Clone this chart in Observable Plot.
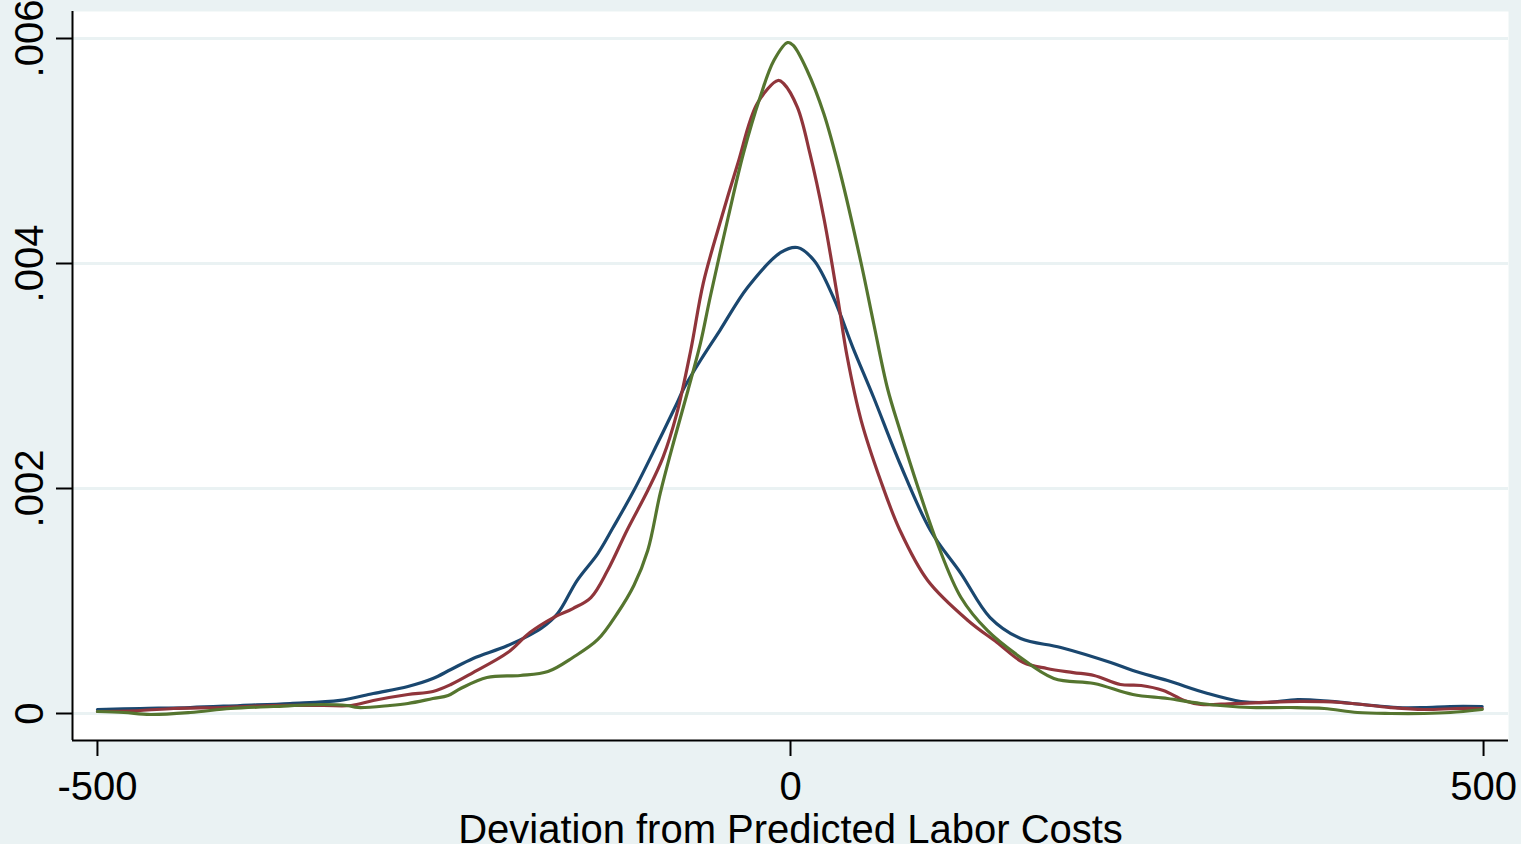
<!DOCTYPE html>
<html><head><meta charset="utf-8">
<script src="https://cdn.jsdelivr.net/npm/d3@7"></script>
<script src="https://cdn.jsdelivr.net/npm/@observablehq/plot@0.6"></script>
<style>
html,body{margin:0;padding:0;background:#eaf2f3;overflow:hidden;}
</style></head><body><div id="chart"></div>
<script>
// Tick values
const xTicks = [-500, 0, 500];
const yTicks = [0, 0.002, 0.004, 0.006];
const yTickLabels = ["0", ".002", ".004", ".006"];
const xTitle = "Deviation from Predicted Labor Costs";

// Series (kernel density estimates)
const seriesNames = ["Series 1", "Series 2", "Series 3"];
const seriesColors = ["#1a476f", "#90353b", "#55752f"];

const s1X = [-500,-469,-433,-397,-361,-325,-301,-276,-258,-245,-229,-204,-180,-168,-154,-139,-128,-113,-96,-82,-77,-65,-51,-31,-7,5,17,31,45,60,79,101,123,144,166,195,231,247,272,301,325,344,366,390,413,438,457,476,499];
const s1Y = [0.0000356,0.0000444,0.0000533,0.0000711,0.0000889,0.000116,0.000178,0.00024,0.000311,0.000391,0.000489,0.000604,0.000756,0.000889,0.001182,0.001422,0.001653,0.001982,0.0024,0.002756,0.002889,0.003138,0.003404,0.003787,0.004098,0.004142,0.004027,0.003698,0.003253,0.002809,0.00222,0.001627,0.001244,0.000853,0.000667,0.000587,0.000453,0.000382,0.000293,0.000178,0.000107,0.000098,0.000124,0.000107,0.00008,0.000053,0.000053,0.000062,0.000062];

const s2X = [-500,-469,-445,-409,-373,-337,-317,-301,-276,-258,-245,-229,-204,-188,-171,-157,-144,-132,-118,-103,-92,-82,-72,-63,-51,-38,-24,-9,-5,5,14,24,34,41,51,65,79,99,128,149,168,185,204,219,238,253,269,284,296,320,368,397,433,457,481,499];
const s2Y = [0.0000178,0.0000267,0.0000444,0.0000533,0.0000711,0.0000711,0.0000711,0.000116,0.000169,0.000196,0.000258,0.000364,0.000542,0.00072,0.000853,0.000933,0.001031,0.001271,0.001627,0.001982,0.002276,0.002667,0.003227,0.003822,0.004356,0.004889,0.005422,0.005627,0.0056,0.005387,0.004978,0.004409,0.003698,0.003164,0.002604,0.002071,0.001627,0.001182,0.000827,0.000631,0.000453,0.0004,0.000364,0.000338,0.000258,0.000249,0.000204,0.000116,0.00008,0.000089,0.000107,0.000098,0.000053,0.0000356,0.0000444,0.0000444];

const s3X = [-500,-481,-462,-433,-404,-373,-337,-320,-312,-289,-276,-258,-247,-238,-219,-195,-175,-157,-139,-125,-113,-103,-94,-84,-74,-65,-58,-45,-34,-22,-12,-2,2,12,24,36,51,60,70,79,92,106,123,142,164,190,219,247,272,296,332,361,385,409,433,457,476,499];
const s3Y = [0.0000178,0.0000089,-0.0000089,0.0000089,0.0000444,0.0000622,0.00008,0.0000711,0.0000533,0.0000711,0.0000889,0.000133,0.00016,0.000222,0.00032,0.000338,0.000373,0.000498,0.000658,0.000889,0.001138,0.001449,0.001956,0.002427,0.002871,0.003289,0.003698,0.004409,0.004978,0.005476,0.005804,0.005964,0.005938,0.005716,0.005333,0.0048,0.004,0.003467,0.002889,0.002516,0.002009,0.001511,0.001031,0.000738,0.000516,0.000311,0.000267,0.000169,0.000133,0.0000889,0.0000533,0.0000533,0.0000444,0.0000089,0,0,0.0000089,0.0000356];

const rows = [];
[[s1X, s1Y], [s2X, s2Y], [s3X, s3Y]].forEach(([xs, ys], i) => {
  xs.forEach((x, j) => rows.push({series: seriesNames[i], x, y: ys[j]}));
});

const bg = "#eaf2f3";
const xDomain = [-518, 518];
const yDomain = [-0.00024, 0.00624];

const chart = Plot.plot({
  width: 1521,
  height: 844,
  marginLeft: 72,
  marginRight: 13,
  marginTop: 11,
  marginBottom: 104,
  style: {background: bg, fontFamily: "'Liberation Sans', Arial, Helvetica, sans-serif", fontSize: "40px", color: "black"},
  x: {domain: xDomain},
  y: {domain: yDomain},
  color: {domain: seriesNames, range: seriesColors},
  marks: [
    Plot.frame({fill: "white", stroke: null}),
    Plot.ruleY(yTicks, {stroke: bg, strokeWidth: 3}),
    Plot.line(rows, {x: "x", y: "y", stroke: "series", strokeWidth: 3.2, curve: "catmull-rom"}),
    Plot.ruleX([xDomain[0]], {stroke: "black", strokeWidth: 2}),
    Plot.ruleY([yDomain[0]], {stroke: "black", strokeWidth: 2}),
    Plot.axisY(yTicks, {tickSize: 16, tickPadding: 14, strokeWidth: 2, tickRotate: -90, fontSize: 40,
      tickFormat: (d) => yTickLabels[yTicks.indexOf(d)], label: null}),
    Plot.axisX(xTicks, {tickSize: 16, tickPadding: 15, strokeWidth: 2, fontSize: 40,
      tickFormat: d => String(d), label: xTitle, labelAnchor: "center", labelOffset: 102, labelArrow: "none"})
  ]
});
document.getElementById("chart").appendChild(chart);
</script>
</body></html>
